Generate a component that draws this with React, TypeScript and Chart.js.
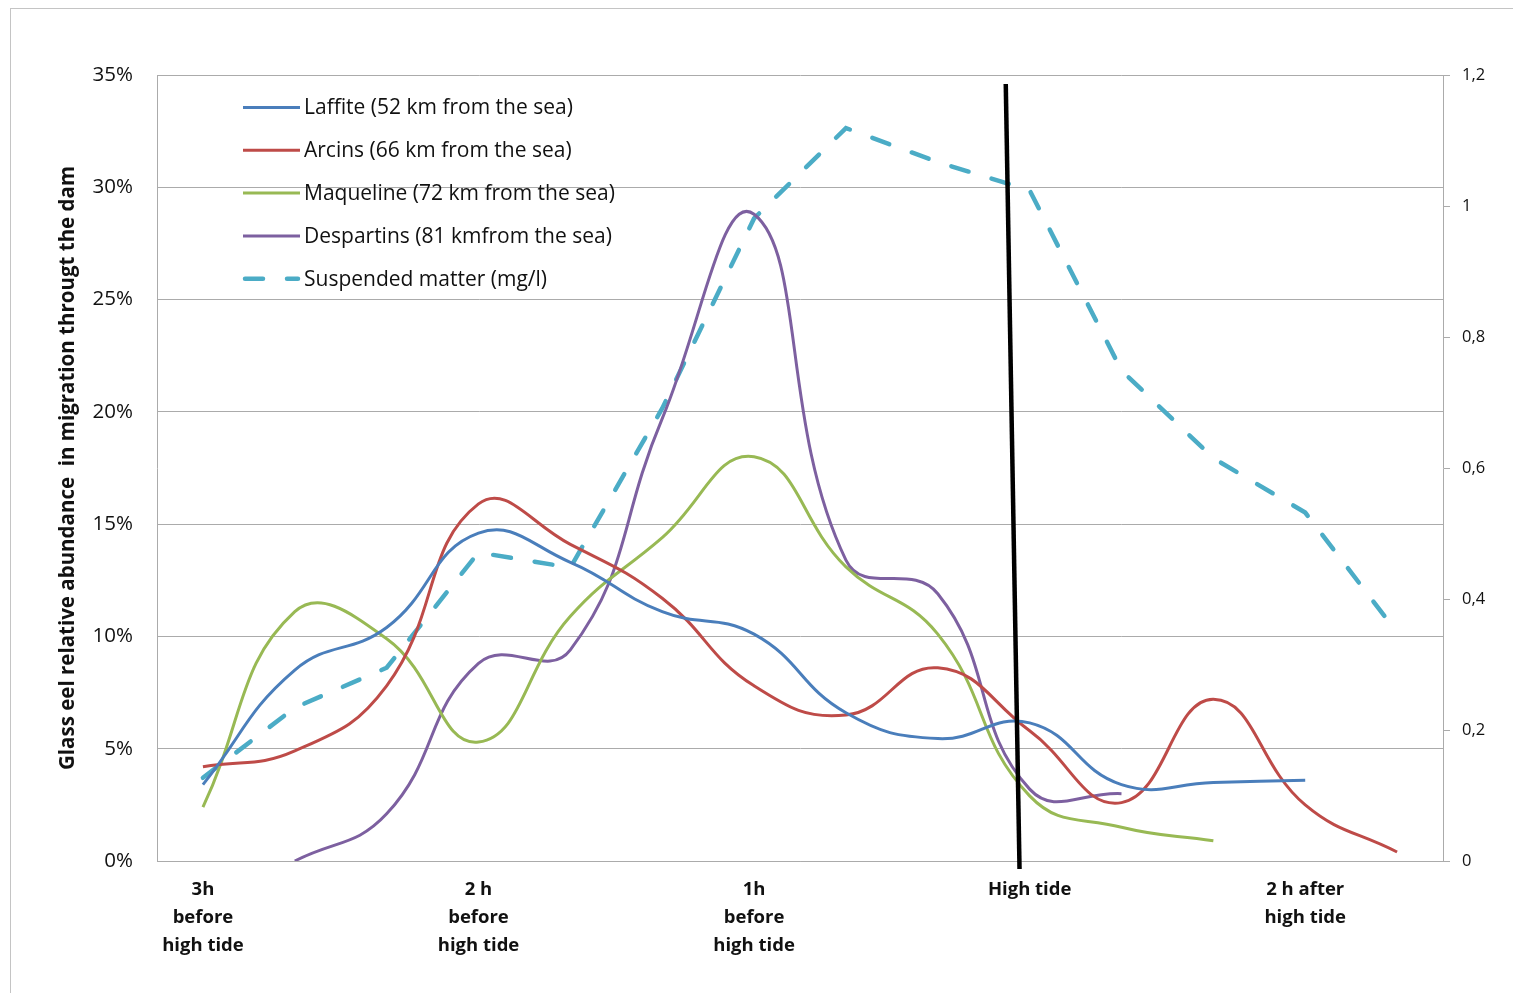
import React, { useEffect, useRef } from "react";
import { Chart, registerables } from "chart.js";

Chart.register(...registerables);

const categories: (string | string[])[] = [
  ["3h", "before", "high tide"], "", "",
  ["2 h", "before", "high tide"], "", "",
  ["1h", "before", "high tide"], "", "",
  "High tide", "", "",
  ["2 h after", "high tide"], "",
];

const laffite = [3.4, 8.5, 10.4, 14.6, 13.3, 11.1, 10.1, 6.6, 5.45, 6.15, 3.4, 3.5, 3.6, null];
const arcins = [4.2, 4.9, 7.8, 15.9, 14.1, 11.7, 7.8, 6.5, 8.6, 5.8, 2.6, 7.2, 2.5, 0.4];
const maqueline = [2.4, 11.1, 9.9, 5.3, 10.9, 14.4, 18.0, 13.1, 10.1, 2.9, 1.5, 0.9, null, null];
const despartins = [null, 0.0, 2.1, 8.8, 9.4, 19.7, 28.8, 13.4, 11.9, 3.2, 3.0, null, null, null];
const suspended = [0.127, 0.234, 0.295, 0.471, 0.448, 0.691, 0.981, 1.119, 1.067, 1.024, 0.749, 0.615, 0.532, 0.349];

const seriesNames = [
  "Laffite (52 km from the sea)",
  "Arcins (66 km from the sea)",
  "Maqueline (72 km from the sea)",
  "Despartins (81 kmfrom the sea)",
  "Suspended matter (mg/l)",
];
const seriesColors = ["#4A7EBB", "#BE4B48", "#98B954", "#7D60A0", "#4BACC6"];

const yTitle = "Glass eel relative abundance  in migration througt the dam";

// hand-drawn high-tide marker: [category index, percent] at top and bottom
const markerTop = [8.74, 34.6];
const markerBottom = [8.89, -0.36];

const FONT = "'Open Sans', Lato, sans-serif";

const overlayPlugin = {
  id: "overlay",
  afterDatasetsDraw(chart: any) {
    const { ctx, scales } = chart;
    const x = scales.x, y = scales.y;
    ctx.save();
    ctx.strokeStyle = "#000";
    ctx.lineWidth = 4.5;
    ctx.beginPath();
    ctx.moveTo(x.getPixelForValue(markerTop[0]), y.getPixelForValue(markerTop[1]));
    ctx.lineTo(x.getPixelForValue(markerBottom[0]), y.getPixelForValue(markerBottom[1]));
    ctx.stroke();
    ctx.restore();
  },
  afterDraw(chart: any) {
    const { ctx, chartArea } = chart;
    const ds = chart.data.datasets;
    ctx.save();
    ctx.font = `21px ${FONT}`;
    ctx.textBaseline = "middle";
    ctx.textAlign = "left";
    const x0 = chartArea.left + 86;
    const x1 = x0 + 57;
    for (let i = 0; i < ds.length; i++) {
      const yy = chartArea.top + 32.5 + i * 42.8;
      ctx.strokeStyle = ds[i].borderColor;
      ctx.lineWidth = ds[i].borderWidth;
      ctx.lineCap = i === 4 ? "round" : "butt";
      ctx.setLineDash(i === 4 ? [18, 24] : []);
      ctx.beginPath();
      ctx.moveTo(i === 4 ? x0 + 2 : x0, yy);
      ctx.lineTo(i === 4 ? x1 - 2 : x1, yy);
      ctx.stroke();
      ctx.setLineDash([]);
      ctx.fillStyle = "#111";
      ctx.fillText(ds[i].label, x1 + 4, yy + 1);
    }
    ctx.restore();
  },
};

export default function App() {
  const ref = useRef<HTMLCanvasElement>(null);
  useEffect(() => {
    if (!ref.current) return;
    const solid = (i: number, data: (number | null)[]) => ({
      label: seriesNames[i],
      data,
      borderColor: seriesColors[i],
      backgroundColor: seriesColors[i],
      borderWidth: 3,
      pointRadius: 0,
      pointHoverRadius: 0,
      tension: 0.45,
      fill: false,
      yAxisID: "y",
    });
    const chart = new Chart(ref.current, {
      type: "line",
      data: {
        labels: categories,
        datasets: [
          solid(0, laffite),
          solid(1, arcins),
          solid(2, maqueline),
          solid(3, despartins),
          {
            label: seriesNames[4],
            data: suspended,
            borderColor: seriesColors[4],
            backgroundColor: seriesColors[4],
            borderWidth: 4.5,
            borderDash: [18, 24],
            borderCapStyle: "round",
            pointRadius: 0,
            pointHoverRadius: 0,
            tension: 0,
            fill: false,
            yAxisID: "y1",
          },
        ],
      },
      options: {
        responsive: false,
        animation: false,
        events: [],
        layout: { padding: { top: 75, left: 0, right: 0, bottom: 0 } },
        plugins: {
          legend: { display: false },
          tooltip: { enabled: false },
          title: { display: false },
        },
        scales: {
          x: {
            type: "category",
            offset: true,
            grid: { display: false, drawTicks: false },
            border: { display: true, color: "#ababab", width: 1 },
            ticks: {
              autoSkip: false,
              maxRotation: 0,
              minRotation: 0,
              padding: 15,
              color: "#111",
              font: { family: FONT, size: 18.5, weight: "bold", lineHeight: 1.51 },
            },
            afterFit: (s: any) => { s.height = 132; },
          },
          y: {
            position: "left",
            min: 0,
            max: 35,
            ticks: {
              stepSize: 5,
              padding: 24,
              color: "#111",
              font: { family: FONT, size: 20.5 },
              callback: (v: any) => `${v}%`,
            },
            grid: { color: "#ababab", lineWidth: 1, drawTicks: false },
            border: { display: true, color: "#ababab", width: 1 },
            title: {
              display: true,
              text: yTitle,
              color: "#111",
              font: { family: FONT, size: 20.5, weight: "bold" },
              padding: { top: 56, bottom: 0 },
            },
            afterFit: (s: any) => { s.width = 157; },
          },
          y1: {
            position: "right",
            min: 0,
            max: 1.2,
            ticks: {
              stepSize: 0.2,
              padding: 12,
              color: "#111",
              font: { family: FONT, size: 16.5 },
              callback: (v: any) => String(Math.round(Number(v) * 10) / 10).replace(".", ","),
            },
            grid: { drawOnChartArea: false, color: "#ababab", tickLength: 7, drawTicks: true },
            border: { display: true, color: "#ababab", width: 1 },
            afterFit: (s: any) => { s.width = 70; },
          },
        },
      },
      plugins: [overlayPlugin],
    } as any);
    return () => chart.destroy();
  }, []);

  return (
    <div>
      <div
        style={{
          position: "fixed",
          left: 10,
          top: 8,
          right: -10,
          bottom: -10,
          border: "1px solid #c4c4c4",
          pointerEvents: "none",
        }}
      />
      <canvas
        ref={ref}
        width={1513}
        height={993}
        style={{ position: "fixed", left: 0, top: 0, width: 1513, height: 993 }}
      />
    </div>
  );
}
